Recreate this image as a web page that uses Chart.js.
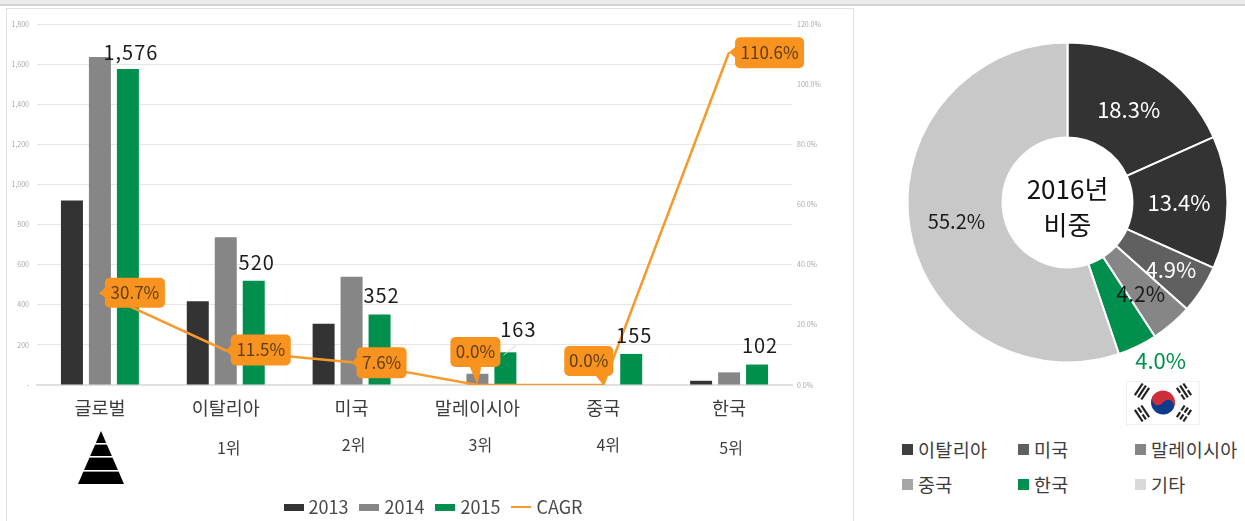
<!DOCTYPE html>
<html lang="ko">
<head>
<meta charset="utf-8">
<title>2016</title>
<script src="https://cdn.jsdelivr.net/npm/chart.js@4/dist/chart.umd.min.js"></script>
<style>
  html, body { margin: 0; padding: 0; background: #fff; overflow: hidden; }
  body { width: 1245px; height: 521px; position: relative; font-family: "Noto Sans CJK KR", sans-serif; }
  #topband { position: absolute; left: 0; top: 0; width: 1245px; height: 4px; background: #ececec; border-bottom: 2px solid #d4d4d4; }
  #panel { position: absolute; left: 6px; top: 8px; width: 846px; height: 513px; border: 1px solid #e2e2e2; border-bottom: none; }
  #barChart { position: absolute; left: 7px; top: 9px; }
  #pieChart { position: absolute; left: 885px; top: 20px; }
  #pyramid, #flag { position: absolute; }
  #pyramid { left: 77px; top: 431px; }
  #flag { left: 1126px; top: 381px; }
  .key { position: absolute; font-size: 18.5px; line-height: 24px; color: #3c3c3c; white-space: nowrap; padding-left: 16px; letter-spacing: 0.3px; }
  .key i { position: absolute; left: 0; top: 7px; width: 11px; height: 11px; }
</style>
</head>
<body>
<div id="topband"></div>
<div id="panel"></div>
<canvas id="barChart" width="846" height="517"></canvas>
<canvas id="pieChart" width="365" height="365"></canvas>

<svg id="pyramid" width="48" height="54" viewBox="0 0 48 54">
  <polygon points="24,0 47,53 1,53" fill="#000"/>
  <rect x="0" y="12" width="48" height="1.6" fill="#fff"/>
  <rect x="0" y="25" width="48" height="1.6" fill="#fff"/>
  <rect x="0" y="39" width="48" height="1.6" fill="#fff"/>
</svg>

<svg id="flag" width="74" height="44" viewBox="0 0 74 44">
  <rect x="0.5" y="0.5" width="73" height="43" fill="#fff" stroke="#f0f0f0"/>
  <g transform="translate(37 21.5) rotate(33.7)">
    <path d="M-12 0 A12 12 0 0 1 12 0 Z" fill="#cd2e3a"/>
    <path d="M-12 0 A12 12 0 0 0 12 0 Z" fill="#0f3b8c"/>
    <circle cx="-6" cy="0" r="6" fill="#cd2e3a"/>
    <circle cx="6" cy="0" r="6" fill="#0f3b8c"/>
  </g>
  <g fill="#222">
    <g transform="translate(16 10.5) rotate(-56.3)"><rect x="-7" y="-5" width="14" height="2.2"/><rect x="-7" y="-1.1" width="14" height="2.2"/><rect x="-7" y="2.8" width="14" height="2.2"/></g>
    <g transform="translate(58 10.5) rotate(56.3)"><rect x="-7" y="-5" width="6" height="2.2"/><rect x="1" y="-5" width="6" height="2.2"/><rect x="-7" y="-1.1" width="14" height="2.2"/><rect x="-7" y="2.8" width="6" height="2.2"/><rect x="1" y="2.8" width="6" height="2.2"/></g>
    <g transform="translate(16 32.5) rotate(56.3)"><rect x="-7" y="-5" width="14" height="2.2"/><rect x="-7" y="-1.1" width="6" height="2.2"/><rect x="1" y="-1.1" width="6" height="2.2"/><rect x="-7" y="2.8" width="14" height="2.2"/></g>
    <g transform="translate(58 32.5) rotate(-56.3)"><rect x="-7" y="-5" width="6" height="2.2"/><rect x="1" y="-5" width="6" height="2.2"/><rect x="-7" y="-1.1" width="6" height="2.2"/><rect x="1" y="-1.1" width="6" height="2.2"/><rect x="-7" y="2.8" width="6" height="2.2"/><rect x="1" y="2.8" width="6" height="2.2"/></g>
  </g>
</svg>

<div class="key" style="left:902px;top:437px"><i style="background:#3f3f3f"></i>이탈리아</div>
<div class="key" style="left:1018px;top:437px"><i style="background:#5f5f5f"></i>미국</div>
<div class="key" style="left:1135px;top:437px"><i style="background:#858585"></i>말레이시아</div>
<div class="key" style="left:902px;top:472px"><i style="background:#a5a5a5"></i>중국</div>
<div class="key" style="left:1018px;top:472px"><i style="background:#008f4c"></i>한국</div>
<div class="key" style="left:1135px;top:472px"><i style="background:#d9d9d9"></i>기타</div>

<script>
const FONT = '"Noto Sans CJK KR", sans-serif';

// data
const categories = ['글로벌', '이탈리아', '미국', '말레이시아', '중국', '한국'];
const ranks = ['', '1위', '2위', '3위', '4위', '5위'];
const values2013 = [920, 418, 306, 0, 0, 21];
const values2014 = [1635, 737, 540, 56, 0, 63];
const values2015 = [1576, 520, 352, 163, 155, 102];
const cagr = [30.7, 11.5, 7.6, 0.0, 0.0, 110.6];

const shareLabels = ['이탈리아', '미국', '말레이시아', '중국', '한국', '기타'];
const shareValues = [18.3, 13.4, 4.9, 4.2, 4.0, 55.2];

const DARK = '#333333', GREY = '#868686', GREEN = '#008f4c', ORANGE = '#f7931e';

// offsets from the anchor, for text and boxes that sit beside their marks
const barLabelOffset = [[3, -17], [3, -18], [2, -19], [13, -23], [3, -19], [3, -19]];
const rankOffset = [[0, 0], [3, 63], [2, 60], [3, 60], [5, 60], [2, 63]];
const calloutBox = [[5, 65, -15, 15], [5, 65, -16, 15], [5, 55, -15, 16], [-27, 23, -48, -18], [-39, 10, -39, -9], [6, 75, -15, 16]];
const pieLabelOffset = [[0, 2], [-1, 0], [9, 6], [0, 6], [44, 57], [0, 1]];
const pieLabelColor = ['#fff', '#fff', '#fff', '#1a1a1a', GREEN, '#1a1a1a'];
const pieLabelSize = [22, 22, 22, 21, 22, 20];
const pieColors = [DARK, DARK, '#606060', '#868686', GREEN, '#c8c8c8'];

function legendSwatch(w, h, color) {
  const c = document.createElement('canvas');
  c.width = w; c.height = h;
  const g = c.getContext('2d');
  g.fillStyle = color;
  g.fillRect(0, 0, w, h);
  return c;
}

function drawCallout(ctx, pt, box, text) {
  const l = pt.x + box[0], r = pt.x + box[1], t = pt.y + box[2], b = pt.y + box[3];
  ctx.fillStyle = ORANGE;
  ctx.beginPath();
  ctx.roundRect(l, t, r - l, b - t, 5);
  ctx.fill();
  // tail back to the point
  ctx.beginPath();
  if (box[0] > 0) {
    ctx.moveTo(pt.x, pt.y);
    ctx.lineTo(l + 1, pt.y - 6);
    ctx.lineTo(l + 1, pt.y + 6);
  } else {
    ctx.moveTo(pt.x, pt.y);
    ctx.lineTo(pt.x - 8, b - 1);
    ctx.lineTo(pt.x + 4, b - 1);
  }
  ctx.fill();
  ctx.fillStyle = '#5e3d12';
  ctx.font = '17px ' + FONT;
  ctx.textAlign = 'center';
  ctx.textBaseline = 'middle';
  ctx.fillText(text, (l + r) / 2, (t + b) / 2);
}

const barExtras = {
  id: 'barExtras',
  afterLayout(chart) {
    // legend sits a little right of the canvas centre
    chart.legend.left += 5;
    chart.legend.right += 5;
  },
  afterDatasetsDraw(chart) {
    const ctx = chart.ctx;
    const bars = chart.getDatasetMeta(2).data;
    const points = chart.getDatasetMeta(3).data;
    const x = chart.scales.x;
    ctx.save();

    // leader line for the Malaysia label
    ctx.strokeStyle = '#d4d4d4';
    ctx.lineWidth = 1;
    ctx.beginPath();
    ctx.moveTo(bars[3].x - 2, bars[3].y + 3);
    ctx.lineTo(bars[3].x + 11, bars[3].y - 7);
    ctx.stroke();

    ctx.textAlign = 'center';
    ctx.textBaseline = 'middle';
    ctx.font = '20px ' + FONT;
    ctx.letterSpacing = '1px';
    ctx.fillStyle = '#1a1a1a';
    values2015.forEach((v, i) => {
      ctx.fillText(v.toLocaleString('en-US'), bars[i].x + barLabelOffset[i][0], bars[i].y + barLabelOffset[i][1]);
    });
    ctx.letterSpacing = '0px';

    ctx.font = '16px ' + FONT;
    ctx.fillStyle = '#3c3c3c';
    ranks.forEach((r, i) => {
      if (r) ctx.fillText(r, x.getPixelForValue(i) + rankOffset[i][0], chart.chartArea.bottom + rankOffset[i][1]);
    });

    cagr.forEach((v, i) => drawCallout(ctx, points[i], calloutBox[i], v.toFixed(1) + '%'));
    ctx.restore();
  }
};

new Chart(document.getElementById('barChart').getContext('2d'), {
  data: {
    labels: categories,
    datasets: [
      { type: 'bar', label: '2013', data: values2013, backgroundColor: DARK, yAxisID: 'y', order: 1 },
      { type: 'bar', label: '2014', data: values2014, backgroundColor: GREY, yAxisID: 'y', order: 1 },
      { type: 'bar', label: '2015', data: values2015, backgroundColor: GREEN, yAxisID: 'y', order: 1 },
      { type: 'line', label: 'CAGR', data: cagr, borderColor: '#f79a2c', borderWidth: 2.5, pointRadius: 0, tension: 0, fill: false, yAxisID: 'y1', order: 0 }
    ]
  },
  options: {
    responsive: false,
    animation: false,
    layout: { padding: { top: 15, right: 0, bottom: 0, left: 0 } },
    datasets: { bar: { categoryPercentage: 0.667, barPercentage: 0.786 } },
    scales: {
      x: {
        grid: { display: false },
        border: { color: '#e0e0e0', width: 2 },
        ticks: { color: '#3c3c3c', font: { family: FONT, size: 18.5 }, padding: 4, maxRotation: 0 },
        afterFit(scale) { scale.height = 98; }
      },
      y: {
        position: 'left',
        min: 0, max: 1800,
        grid: { color: '#e6e6e6', drawTicks: false },
        border: { display: false },
        ticks: {
          stepSize: 200, color: '#a8a8a8', font: { family: FONT, size: 7 }, padding: 8,
          callback: v => v === 0 ? '-' : v.toLocaleString('en-US')
        },
        afterFit(scale) { scale.width = 30; }
      },
      y1: {
        position: 'right',
        min: 0, max: 120,
        grid: { display: false, drawTicks: false },
        border: { display: false },
        ticks: {
          stepSize: 20, color: '#a8a8a8', font: { family: FONT, size: 7 }, padding: 5,
          callback: v => v.toFixed(1) + '%'
        },
        afterFit(scale) { scale.width = 61; }
      }
    },
    plugins: {
      tooltip: { enabled: false },
      legend: {
        position: 'bottom',
        labels: {
          usePointStyle: true,
          pointStyleWidth: 12,
          boxHeight: 7,
          padding: 15,
          color: '#4a4a4a',
          font: { family: FONT, size: 18 },
          generateLabels(chart) {
            const swatch = [legendSwatch(20, 7, DARK), legendSwatch(20, 7, GREY), legendSwatch(20, 7, GREEN), legendSwatch(20, 2, '#f79a2c')];
            return chart.data.datasets.map((d, i) => ({
              text: d.label, datasetIndex: i, hidden: false, lineWidth: 0,
              fontColor: '#4a4a4a', pointStyle: swatch[i]
            }));
          }
        }
      }
    }
  },
  plugins: [barExtras]
});

const pieExtras = {
  id: 'pieExtras',
  afterDatasetsDraw(chart) {
    const ctx = chart.ctx;
    const arcs = chart.getDatasetMeta(0).data;
    ctx.save();
    ctx.textAlign = 'center';
    ctx.textBaseline = 'middle';
    shareValues.forEach((v, i) => {
      const p = arcs[i].tooltipPosition();
      ctx.font = pieLabelSize[i] + 'px ' + FONT;
      ctx.fillStyle = pieLabelColor[i];
      ctx.fillText(v.toFixed(1) + '%', p.x + pieLabelOffset[i][0], p.y + pieLabelOffset[i][1]);
    });
    ctx.fillStyle = '#111';
    ctx.font = '26px ' + FONT;
    ctx.fillText('2016년', arcs[0].x, arcs[0].y - 13);
    ctx.fillText('비중', arcs[0].x, arcs[0].y + 23);
    ctx.restore();
  }
};

new Chart(document.getElementById('pieChart').getContext('2d'), {
  type: 'doughnut',
  data: {
    labels: shareLabels,
    datasets: [{ data: shareValues, backgroundColor: pieColors, borderColor: '#fff', borderWidth: 2, radius: 160 }]
  },
  options: {
    responsive: false,
    animation: false,
    cutout: '40.6%',
    plugins: { legend: { display: false }, tooltip: { enabled: false } }
  },
  plugins: [pieExtras]
});
</script>
</body>
</html>
